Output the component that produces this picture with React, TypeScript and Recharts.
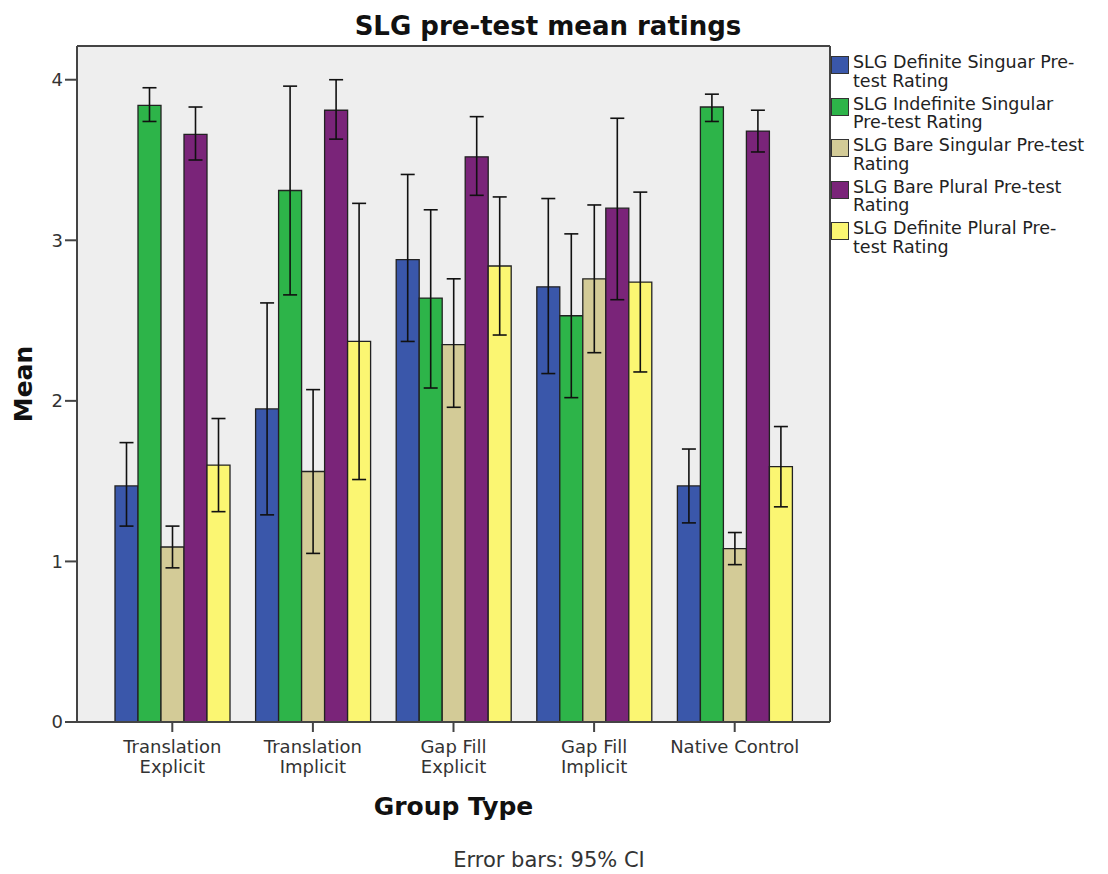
import { BarChart, Bar, XAxis, YAxis, CartesianGrid, ErrorBar, Legend, Label } from 'recharts';

const FONT = '"DejaVu Sans", sans-serif';

// group categories and their two-line tick text
const groups = ['Translation Explicit', 'Translation Implicit', 'Gap Fill Explicit', 'Gap Fill Implicit', 'Native Control'];
const groupTickLines = [
  ['Translation', 'Explicit'],
  ['Translation', 'Implicit'],
  ['Gap Fill', 'Explicit'],
  ['Gap Fill', 'Implicit'],
  ['Native Control'],
];

const seriesKeys = ['defSing', 'indefSing', 'bareSing', 'barePlural', 'defPlural'];
const seriesLegendLines = [
  ['SLG Definite Singuar Pre-', 'test Rating'],
  ['SLG Indefinite Singular', 'Pre-test Rating'],
  ['SLG Bare Singular Pre-test', 'Rating'],
  ['SLG Bare Plural Pre-test', 'Rating'],
  ['SLG Definite Plural Pre-', 'test Rating'],
];
const seriesColors = ['#3a57aa', '#2db449', '#d3cb97', '#7a2479', '#fbf672'];

// means per series, one value per group
const defSingMean = [1.47, 1.95, 2.88, 2.71, 1.47];
const indefSingMean = [3.84, 3.31, 2.64, 2.53, 3.83];
const bareSingMean = [1.09, 1.56, 2.35, 2.76, 1.08];
const barePluralMean = [3.66, 3.81, 3.52, 3.2, 3.68];
const defPluralMean = [1.6, 2.37, 2.84, 2.74, 1.59];

// 95% CI bounds
const defSingLow = [1.22, 1.29, 2.37, 2.17, 1.24];
const defSingHigh = [1.74, 2.61, 3.41, 3.26, 1.7];
const indefSingLow = [3.74, 2.66, 2.08, 2.02, 3.74];
const indefSingHigh = [3.95, 3.96, 3.19, 3.04, 3.91];
const bareSingLow = [0.96, 1.05, 1.96, 2.3, 0.98];
const bareSingHigh = [1.22, 2.07, 2.76, 3.22, 1.18];
const barePluralLow = [3.5, 3.63, 3.28, 2.63, 3.55];
const barePluralHigh = [3.83, 4.0, 3.77, 3.76, 3.81];
const defPluralLow = [1.31, 1.51, 2.41, 2.18, 1.34];
const defPluralHigh = [1.89, 3.23, 3.27, 3.3, 1.84];

const yTicks = [0, 1, 2, 3, 4];

const means = [defSingMean, indefSingMean, bareSingMean, barePluralMean, defPluralMean];
const lows = [defSingLow, indefSingLow, bareSingLow, barePluralLow, defPluralLow];
const highs = [defSingHigh, indefSingHigh, bareSingHigh, barePluralHigh, defPluralHigh];

const data = groups.map((group, i) => {
  const row: Record<string, any> = { group };
  seriesKeys.forEach((key, s) => {
    row[key] = means[s][i];
    row[key + 'Err'] = [means[s][i] - lows[s][i], highs[s][i] - means[s][i]];
  });
  return row;
});

const GroupTick = (props: any) => {
  const { x, y, payload } = props;
  const lines = groupTickLines[groups.indexOf(payload.value)] || [payload.value];
  return (
    <g>
      {lines.map((line, j) => (
        <text key={line} x={x} y={y + 21 + j * 20} textAnchor="middle" fontFamily={FONT} fontSize={18} fill="#333">
          {line}
        </text>
      ))}
    </g>
  );
};

const renderLegend = () => (
  <div style={{ fontFamily: FONT, fontSize: 17.5, lineHeight: '18.5px', color: '#222' }}>
    {seriesLegendLines.map((lines, s) => (
      <div key={s} style={{ position: 'relative', paddingLeft: 22, height: 41.5 }}>
        <span
          style={{
            position: 'absolute',
            left: 0,
            top: 3,
            width: 16,
            height: 16,
            background: seriesColors[s],
            border: '1px solid #333',
          }}
        />
        {lines.map((line) => (
          <div key={line} style={{ whiteSpace: 'nowrap' }}>{line}</div>
        ))}
      </div>
    ))}
  </div>
);

const frameLine = { stroke: '#444', strokeWidth: 2 };

export default function App() {
  return (
    <div style={{ position: 'absolute', left: 0, top: 0, width: 1108, height: 874, background: '#fff' }}>
      <BarChart
        width={1108}
        height={874}
        data={data}
        margin={{ top: 45, right: 0, bottom: 0, left: 0 }}
        barCategoryGap={13}
        barGap={0}
      >
        <CartesianGrid horizontal={false} vertical={false} fill="#eeeeee" />
        <XAxis
          dataKey="group"
          height={152}
          padding={{ left: 25, right: 25 }}
          axisLine={frameLine}
          tickLine={{ stroke: '#444', strokeWidth: 2 }}
          tickSize={10}
          tickMargin={0}
          interval={0}
          tick={<GroupTick />}
        >
          <Label
            content={(p: any) => (
              <text
                x={p.viewBox.x + p.viewBox.width / 2}
                y={815}
                textAnchor="middle"
                fontFamily={FONT}
                fontWeight="bold"
                fontSize={25}
                fill="#111"
              >
                Group Type
              </text>
            )}
          />
          <Label
            content={() => (
              <text x={549} y={867} textAnchor="middle" fontFamily={FONT} fontSize={21} fill="#333">
                Error bars: 95% CI
              </text>
            )}
          />
        </XAxis>
        <XAxis
          xAxisId="top"
          dataKey="group"
          orientation="top"
          height={1}
          tick={false}
          tickLine={false}
          axisLine={frameLine}
        >
          <Label
            content={() => (
              <text x={548} y={35} textAnchor="middle" fontFamily={FONT} fontWeight="bold" fontSize={26} fill="#111">
                SLG pre-test mean ratings
              </text>
            )}
          />
        </XAxis>
        <YAxis
          width={77}
          domain={[0, 4.21]}
          ticks={yTicks}
          axisLine={frameLine}
          tickLine={{ stroke: '#444', strokeWidth: 2 }}
          tickSize={12}
          tick={{ fontFamily: FONT, fontSize: 18, fill: '#333' }}
        >
          <Label
            content={(p: any) => {
              const cy = p.viewBox.y + p.viewBox.height / 2;
              return (
                <text
                  x={23}
                  y={cy}
                  transform={`rotate(-90, 23, ${cy})`}
                  textAnchor="middle"
                  dominantBaseline="central"
                  fontFamily={FONT}
                  fontWeight="bold"
                  fontSize={25}
                  fill="#111"
                >
                  Mean
                </text>
              );
            }}
          />
        </YAxis>
        <YAxis
          yAxisId="right"
          orientation="right"
          width={1}
          domain={[0, 1]}
          tick={false}
          tickLine={false}
          axisLine={frameLine}
        />
        <Legend
          layout="vertical"
          align="right"
          verticalAlign="top"
          content={renderLegend}
          wrapperStyle={{ left: 831, top: 53, width: 277 }}
        />
        {seriesKeys.map((key, s) => (
          <Bar
            key={key}
            dataKey={key}
            fill={seriesColors[s]}
            stroke="#222"
            strokeWidth={1.3}
            isAnimationActive={false}
          >
            <ErrorBar dataKey={key + 'Err'} width={7} stroke="#111" strokeWidth={1.6} />
          </Bar>
        ))}
      </BarChart>
    </div>
  );
}
